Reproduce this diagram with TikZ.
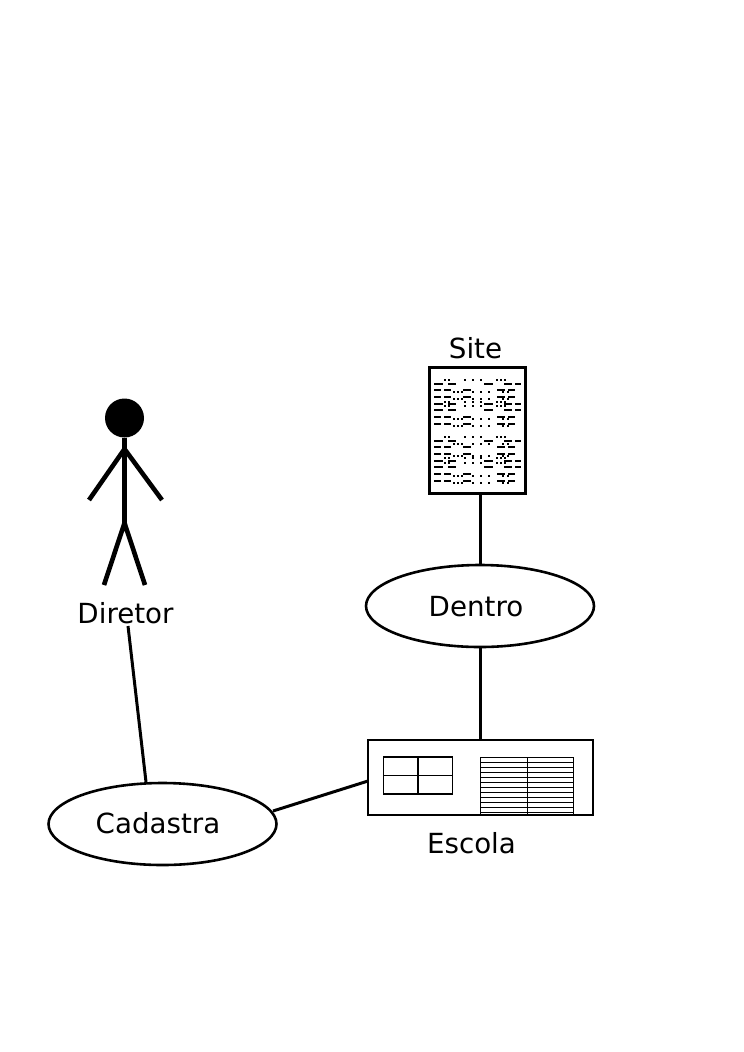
\documentclass[tikz,border=0pt]{standalone}
\usepackage{fontspec}
\setmainfont{DejaVu Sans}
\usetikzlibrary{shapes.geometric}
\begin{document}
\begin{tikzpicture}[x=1pt,y=-1pt,
    main node/.style={ellipse,draw,line width=2.6pt,minimum width=228pt,minimum height=82pt,inner sep=0pt},
    label node/.style={font=\fontsize{27.7}{32}\selectfont,inner sep=0pt},
    conn/.style={line width=3pt},
    limb/.style={line width=4.6pt},
    dasha/.style={line width=1.4pt,dash pattern=on 9pt off 5pt on 8pt off 28pt on 9pt off 11pt on 8pt off 3pt on 7pt off 100pt},
    dota/.style={line width=1.4pt,dash pattern=on 0pt off 10pt on 2pt off 2pt on 2pt off 14pt on 2pt off 6pt on 2pt off 6pt on 2pt off 14pt on 2pt off 2pt on 2pt off 2pt on 2pt off 100pt},
    dashb/.style={line width=1.4pt,dash pattern=on 7pt off 3pt on 7pt off 12pt on 8pt off 26pt on 8pt off 3pt on 7pt off 100pt},
    dotb/.style={line width=1.4pt,dash pattern=on 0pt off 19pt on 2pt off 2pt on 2pt off 2pt on 2pt off 9pt on 2pt off 6pt on 2pt off 6pt on 2pt off 12pt on 2pt off 3pt on 2pt off 100pt}]
  \useasboundingbox (0,0) rectangle (744,1052);

  % actor
  \node[circle,fill,minimum size=39pt,inner sep=0pt] (head) at (124.5,418) {};
  \coordinate (neck) at (124.5,449);
  \coordinate (hip) at (124.5,523);
  \coordinate (handl) at (89,500);
  \coordinate (handr) at (162,500);
  \coordinate (footl) at (104,585);
  \coordinate (footr) at (145,585);
  \draw[limb] (head) -- (hip);
  \draw[limb] (handl) -- (neck) -- (handr);
  \draw[limb] (footl) -- (hip) -- (footr);
  \node[label node] (diretor) at (125.5,613) {Diretor};

  % document
  \node[draw,line width=3pt,minimum width=96pt,minimum height=126pt,inner sep=0pt] (site) at (477,430) {};
  \node[label node] (sitetext) at (475.5,348) {Site};
  \foreach \y/\d/\s/\o in {384/dasha/dota/-4,390/dashb/dotb/2,397/dashb/dotb/2,404/dasha/dota/-2,
                           410/dasha/dota/-4,417/dashb/dotb/2,424/dashb/dotb/2,
                           441/dasha/dota/-4,447/dashb/dotb/-3,454/dashb/dotb/2,461/dasha/dota/-3,
                           467/dasha/dota/-4,474/dashb/dotb/2,481/dashb/dotb/2}{
    \draw[\d] (434,\y) -- (521,\y);
    \draw[\s] (434,\y+\o) -- (521,\y+\o);
  }

  % use cases
  \node[main node] (dentro) at (480,606) {};
  \node[label node] (dentrotext) at (476,607) {Dentro};
  \node[main node] (cadastra) at (162.5,824) {};
  \node[label node] (cadastratext) at (158,823) {Cadastra};

  % school
  \node[draw,line width=2pt,minimum width=225pt,minimum height=75pt,inner sep=0pt] (escola) at (480.5,777.5) {};
  \node[label node] (escolatext) at (471.5,843) {Escola};
  \node[draw,line width=1.3pt,minimum width=69pt,minimum height=37pt,inner sep=0pt] (window) at (418,775.5) {};
  \draw[line width=1.3pt] (window.north) -- (window.south) (window.west) -- (window.east);
  \node[minimum width=93pt,minimum height=57pt,inner sep=0pt] (grid) at (527,786.5) {};
  \foreach \y in {0,...,11}
    \draw[line width=.8pt] ([yshift=-\y*5pt]grid.north west) -- ([yshift=-\y*5pt]grid.north east);
  \draw[line width=1pt] (grid.north west) -- (grid.south west) (grid.north) -- (grid.south) (grid.north east) -- (grid.south east);

  % connectors
  \coordinate (dirfoot) at (128,626);
  \coordinate (cadtop) at (146,782);
  \coordinate (sitefoot) at (480,493);
  \coordinate (dentop) at (480,565);
  \coordinate (denfoot) at (480,648);
  \coordinate (esctop) at (480,740);
  \coordinate (cadright) at (273,811);
  \coordinate (escleft) at (368,781);
  \draw[conn] (dirfoot) -- (cadtop);
  \draw[conn] (sitefoot) -- (dentop);
  \draw[conn] (denfoot) -- (esctop);
  \draw[conn] (cadright) -- (escleft);
\end{tikzpicture}
\end{document}
